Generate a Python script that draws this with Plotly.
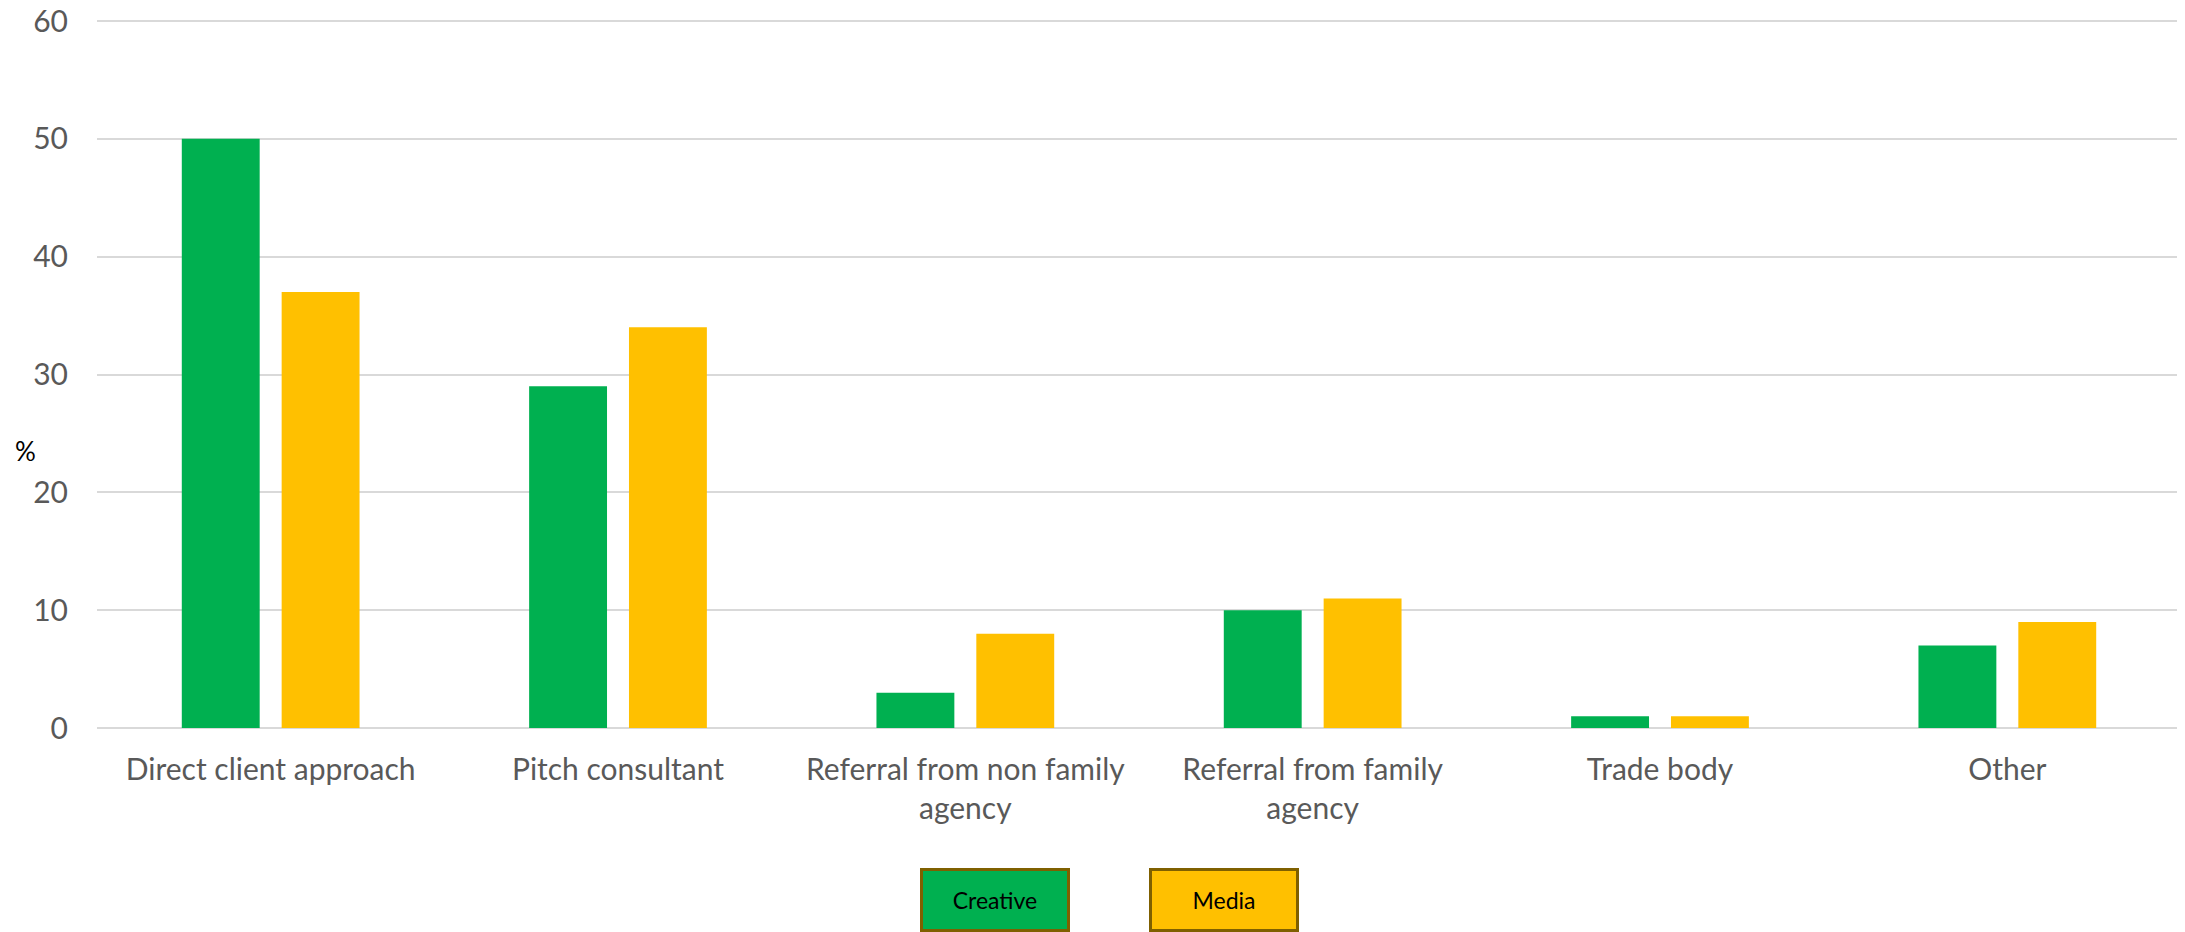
import plotly.graph_objects as go

categories = ["Direct client approach", "Pitch consultant", "Referral from non family<br>agency",
              "Referral from family<br>agency", "Trade body", "Other"]
creative = [50, 29, 3, 10, 1, 7]
media = [37, 34, 8, 11, 1, 9]
y_ticks = [0, 10, 20, 30, 40, 50, 60]

GREEN = "#00B050"
YELLOW = "#FFC000"
FONT = "Lato, 'Open Sans', sans-serif"

OFF = 8  # page body margin
W, H = 2185 - OFF, 932 - OFF
ML = 97 - OFF
MR = W - (2181 - OFF)
MT = 1
MB = H - (728 - OFF)
pw = W - ML - MR
ph = H - MT - MB
unit = ((728 - OFF) - (21 - OFF)) / 60.0   # px per y unit
Y_TOP = ph / unit

fig = go.Figure()
fig.add_bar(x=categories, y=creative, name="Creative", marker_color=GREEN, marker_line_width=0)
fig.add_bar(x=categories, y=media, name="Media", marker_color=YELLOW, marker_line_width=0)

def px_x(x):
    return (x - OFF - ML) / pw

def px_y(y):
    return (H - MB - (y - OFF)) / ph

annotations = [
    dict(text="%", x=px_x(25), y=px_y(451), xref="paper", yref="paper", showarrow=False,
         font=dict(family=FONT, size=26, color="#000000"), xanchor="center", yanchor="middle"),
]
for label, color, cx in [("Creative", GREEN, 995), ("Media", YELLOW, 1224.5)]:
    annotations.append(dict(
        text=label, x=px_x(cx), y=px_y(900), xref="paper", yref="paper", showarrow=False,
        xanchor="center", yanchor="middle", width=144, height=58,
        bgcolor=color, bordercolor="#7F6000", borderwidth=3, borderpad=0,
        font=dict(family=FONT, size=23, color="#000000")))

fig.update_layout(
    width=W, height=H,
    margin=dict(l=ML, r=MR, t=MT, b=MB, autoexpand=False),
    paper_bgcolor="#FFFFFF", plot_bgcolor="rgba(0,0,0,0)",
    barmode="group", bargap=0.425, bargroupgap=0.22,
    showlegend=False,
    font=dict(family=FONT, color="#595959"),
    annotations=annotations,
)
fig.update_xaxes(showgrid=False, showline=False, ticks="", ticklabelstandoff=21, automargin=False,
                 tickfont=dict(family=FONT, size=30, color="#595959"))
fig.update_yaxes(range=[0, Y_TOP], tickvals=y_ticks, showgrid=True, gridcolor="#D9D9D9", gridwidth=2,
                 zeroline=True, zerolinecolor="#D9D9D9", zerolinewidth=2, showline=False, ticks="",
                 ticklabelstandoff=28, ticklabeloverflow="allow", automargin=False,
                 tickfont=dict(family=FONT, size=30, color="#595959"))

fig.write_html("out.html")
